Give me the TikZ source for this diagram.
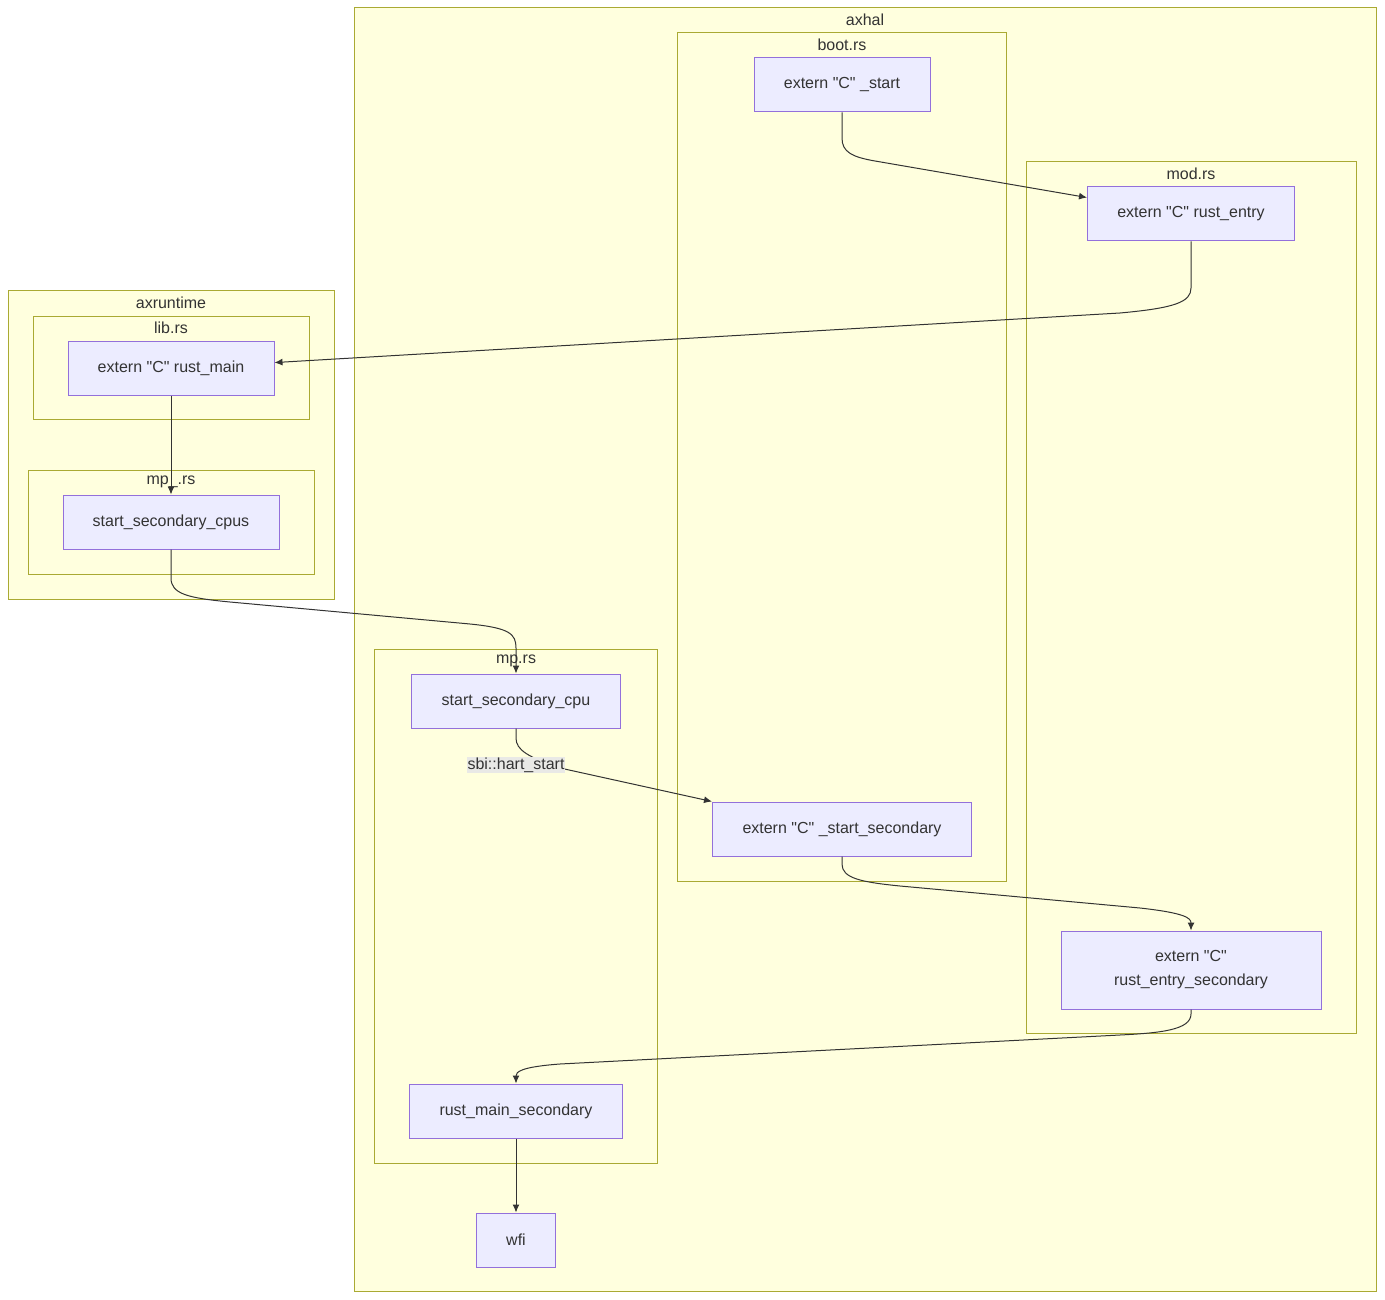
\documentclass[tikz,border=0pt]{standalone}
\usepackage{fontspec}
\setmainfont{Liberation Sans}
\usetikzlibrary{arrows.meta}
\definecolor{clfill}{HTML}{FFFFDE}
\definecolor{cldraw}{HTML}{AAAA33}
\definecolor{fnfill}{HTML}{ECECFF}
\definecolor{fndraw}{HTML}{9370DB}
\definecolor{ink}{HTML}{333333}
\definecolor{lblfill}{HTML}{E9E9E6}
\newcommand{\cq}{\textquotedbl C\textquotedbl}
\begin{document}
\begin{tikzpicture}[x=1pt,y=-1pt,font=\fontsize{16}{24}\selectfont,
  cluster/.style={draw=cldraw,fill=clfill,line width=1pt},
  title/.style={text=ink,inner sep=0pt},
  fn/.style={draw=fndraw,fill=fnfill,line width=1pt,text=ink,minimum height=54pt,inner sep=0pt,align=center},
  call/.style={draw=ink,line width=1pt,-{Latex[length=8pt,width=7pt]}}]
\useasboundingbox (0,0) rectangle (1385,1300);
% clusters
\draw[cluster] (8,291) rectangle (334,599);
\node[title] (axruntime) at (171,303) {axruntime};
\draw[cluster] (33,316) rectangle (309,419);
\node[title] (librs) at (171,328) {lib.rs};
\draw[cluster] (28,470) rectangle (314,574);
\node[title] (mprtrs) at (171,482) {mp\_.rs};
\draw[cluster] (354,8) rectangle (1376,1291);
\node[title] (axhal) at (865,20) {axhal};
\draw[cluster] (677,33) rectangle (1006,881);
\node[title] (bootrs) at (842,45) {boot.rs};
\draw[cluster] (1026,162) rectangle (1356,1033);
\node[title] (modrs) at (1191,174) {mod.rs};
\draw[cluster] (374,649) rectangle (657,1163);
\node[title] (mprs) at (516,661) {mp.rs};
% functions
\node[fn,minimum width=206pt] (rustmain) at (171,368) {extern \cq{} rust\_main};
\node[fn,minimum width=216pt] (cpus) at (171,522) {start\_secondary\_cpus};
\node[fn,minimum width=176pt] (start) at (842,85) {extern \cq{} \_start};
\node[fn,minimum width=259pt] (startsec) at (842,829) {extern \cq{} \_start\_secondary};
\node[fn,minimum width=207pt] (entry) at (1191,214) {extern \cq{} rust\_entry};
\node[fn,minimum width=260pt,minimum height=78pt] (entrysec) at (1191,970) {extern \cq\\rust\_entry\_secondary};
\node[fn,minimum width=209pt] (cpu) at (516,701) {start\_secondary\_cpu};
\node[fn,minimum width=213pt] (mainsec) at (516,1111) {rust\_main\_secondary};
\node[fn,minimum width=79pt] (wfi) at (516,1240) {wfi};
% calls
\draw[call] (start.south) -- (842,138) .. controls (842,152) and (852,157) .. (875,161) -- (entry.171);
\draw[call] (entry.south) -- (1191,288) .. controls (1191,302) and (1175,308) .. (1120,313) -- (rustmain.3);
\draw[call] (rustmain) -- (cpus);
\draw[call] (cpus.south) -- (171,578) .. controls (171,594) and (188,598) .. (230,602) -- (470,624) .. controls (510,628) and (516,634) .. (516,648) -- (cpu.north);
\draw[call] (cpu.south) -- (516,738) .. controls (516,750) and (528,757) .. (560,768) -- (startsec.north west);
\draw[call] (startsec.south) -- (842,864) .. controls (842,878) and (860,882) .. (900,886) -- (1140,908) .. controls (1185,913) and (1191,918) .. (entrysec.north);
\draw[call] (entrysec.south) -- (1191,1014) .. controls (1191,1030) and (1160,1033) .. (1120,1035) -- (560,1064) .. controls (520,1067) and (516,1072) .. (mainsec.north);
\draw[call] (mainsec) -- (wfi);
\node[fill=lblfill,text=ink,inner sep=1pt] (hart) at (516,765) {sbi::hart\_start};
\end{tikzpicture}
\end{document}
